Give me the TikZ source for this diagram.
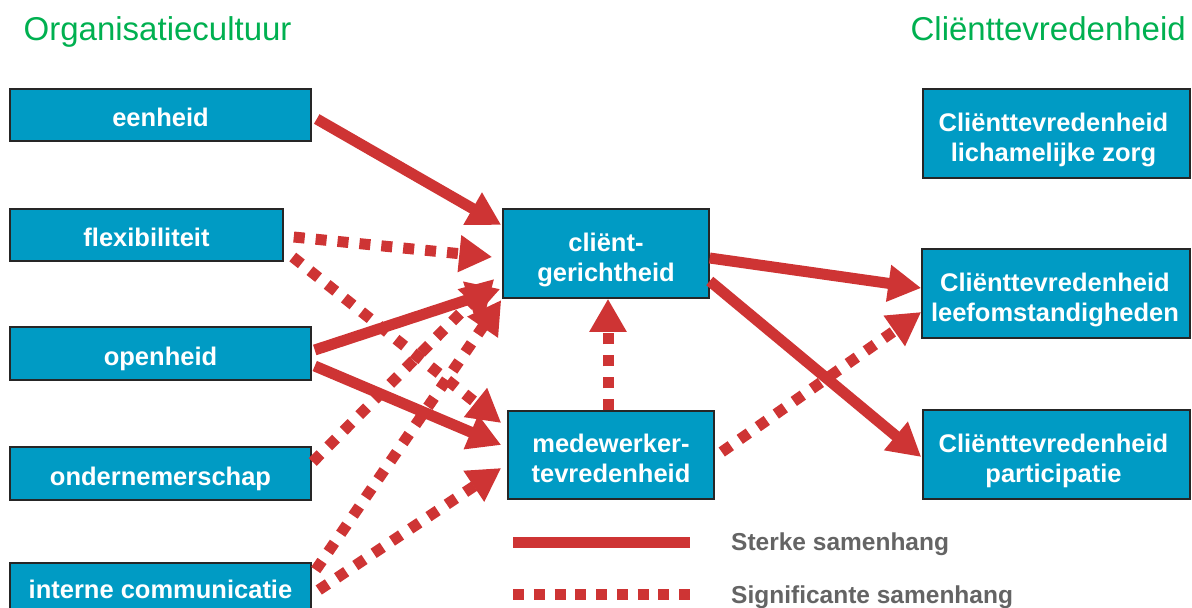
\documentclass[tikz,border=0pt]{standalone}
\usepackage{fontspec}
\setmainfont{Liberation Sans}
\usetikzlibrary{arrows.meta}
\definecolor{boxblue}{RGB}{0,155,196}
\definecolor{arrred}{RGB}{206,52,52}
\definecolor{titlegreen}{RGB}{0,176,80}
\definecolor{leggray}{RGB}{100,100,100}
\begin{document}
\begin{tikzpicture}[x=1pt,y=-1pt,
  box/.style={draw=black!85, line width=1.5pt, fill=boxblue, inner sep=0pt},
  boxtxt/.style={text=white, inner sep=0pt, font=\bfseries\fontsize{25.5}{30}\selectfont},
  boxtxtb/.style={boxtxt, anchor=base},
  boxtxtc/.style={boxtxt, align=center, anchor=center},
  title/.style={text=titlegreen, inner sep=0pt, font=\fontsize{33}{40}\selectfont},
  legtxt/.style={text=leggray, inner sep=0pt, anchor=base west, font=\bfseries\fontsize{24.5}{29}\selectfont},
  strong/.style={draw=arrred, line width=11pt, -{Triangle[length=33pt,width=35pt]}},
  signif/.style={draw=arrred, line width=11pt, dash pattern=on 11pt off 11pt, -{Triangle[length=33pt,width=35pt]}},
]
\useasboundingbox (0,0) rectangle (1192,608);

% titles
\node[title, anchor=base west] (tleft) at (23.5,40) {Organisatiecultuur};
\node[title, anchor=base east] (tright) at (1186,40) {Cliënttevredenheid};

% left boxes
\node[box, minimum width=301pt, minimum height=52pt] (eenheid) at (160.5,115) {};
\node[box, minimum width=273pt, minimum height=52pt] (flex) at (146.5,235) {};
\node[box, minimum width=301pt, minimum height=53pt] (open) at (160.5,353.5) {};
\node[box, minimum width=301pt, minimum height=53pt] (onder) at (160.5,473.5) {};
\node[box, minimum width=301pt, minimum height=53pt] (intern) at (160.5,589.5) {};

\node[boxtxtb] (eenheid-t) at ([shift={(0,11.5)}]eenheid.center) {eenheid};
\node[boxtxtb] (flex-t) at ([shift={(0,11)}]flex.center) {flexibiliteit};
\node[boxtxtb] (open-t) at ([shift={(0,11.5)}]open.center) {openheid};
\node[boxtxtb] (onder-t) at ([shift={(0,11.5)}]onder.center) {ondernemerschap};
\node[boxtxtb] (intern-t) at ([shift={(0,9)}]intern.center) {interne communicatie};

% middle boxes
\node[box, minimum width=206pt, minimum height=89pt] (client) at (606,253.5) {};
\node[box, minimum width=206pt, minimum height=88pt] (medew) at (611,455) {};
\node[boxtxtc] (client-t) at ([shift={(0,6.5)}]client.center) {cliënt-\\gerichtheid};
\node[boxtxtc] (medew-t) at ([shift={(0,3)}]medew.center) {medewerker-\\tevredenheid};

% right boxes
\node[box, minimum width=267pt, minimum height=89pt] (lich) at (1056.5,133.5) {};
\node[box, minimum width=268pt, minimum height=89pt] (leef) at (1056,293.5) {};
\node[box, minimum width=267pt, minimum height=89pt] (part) at (1056.5,454.5) {};
\node[boxtxtc] (lich-t) at ([shift={(-3,6.5)}]lich.center) {Cliënttevredenheid\\lichamelijke zorg};
\node[boxtxtc] (leef-t) at ([shift={(-1,6.5)}]leef.center) {Cliënttevredenheid\\leefomstandigheden};
\node[boxtxtc] (part-t) at ([shift={(-3,6.5)}]part.center) {Cliënttevredenheid\\participatie};

% connectors
\draw[strong] ([shift={(5,4)}]eenheid.east) -- ([shift={(-1,-28.5)}]client.west);
\draw[signif] ([shift={(10,2)}]flex.east) -- ([shift={(-10,3.5)}]client.west);
\draw[signif] ([shift={(9,22)}]flex.east) -- ([shift={(-6,-32)}]medew.west);
\draw[signif] ([shift={(1,-11.5)}]onder.east) -- ([shift={(-8,25.5)}]client.west);
\draw[signif] ([shift={(4,-19.5)}]intern.east) -- ([shift={(-1,46.5)}]client.west);
\draw[signif] ([shift={(7,0.5)}]intern.east) -- ([shift={(-6,13)}]medew.west);
\draw[strong] ([shift={(3,-3.5)}]open.east) -- ([shift={(-2,35.5)}]client.west);
\draw[strong] ([shift={(3,12.5)}]open.east) -- ([shift={(-6,-10)}]medew.west);
\draw[strong] ([shift={(0,4.5)}]client.east) -- ([shift={(0,-5.5)}]leef.west);
\draw[strong] ([shift={(0,27.5)}]client.east) -- ([shift={(-1,2.5)}]part.west);
\draw[signif] ([shift={(7,-3)}]medew.east) -- ([shift={(0,18.5)}]leef.west);
\draw[signif] ([shift={(-3,0)}]medew.north) -- ([shift={(2,0)}]client.south);

% legend
\coordinate (ls1) at (513,542);
\coordinate (ls2) at (690,542);
\coordinate (ld1) at (513,594);
\coordinate (ld2) at (690,594);
\draw[draw=arrred, line width=11pt] (ls1) -- (ls2);
\draw[draw=arrred, line width=11pt, dash pattern=on 11pt off 9.75pt] (ld1) -- (ld2);
\node[legtxt] (leg1) at (731,550) {Sterke samenhang};
\node[legtxt] (leg2) at (731,603) {Significante samenhang};
\end{tikzpicture}
\end{document}
